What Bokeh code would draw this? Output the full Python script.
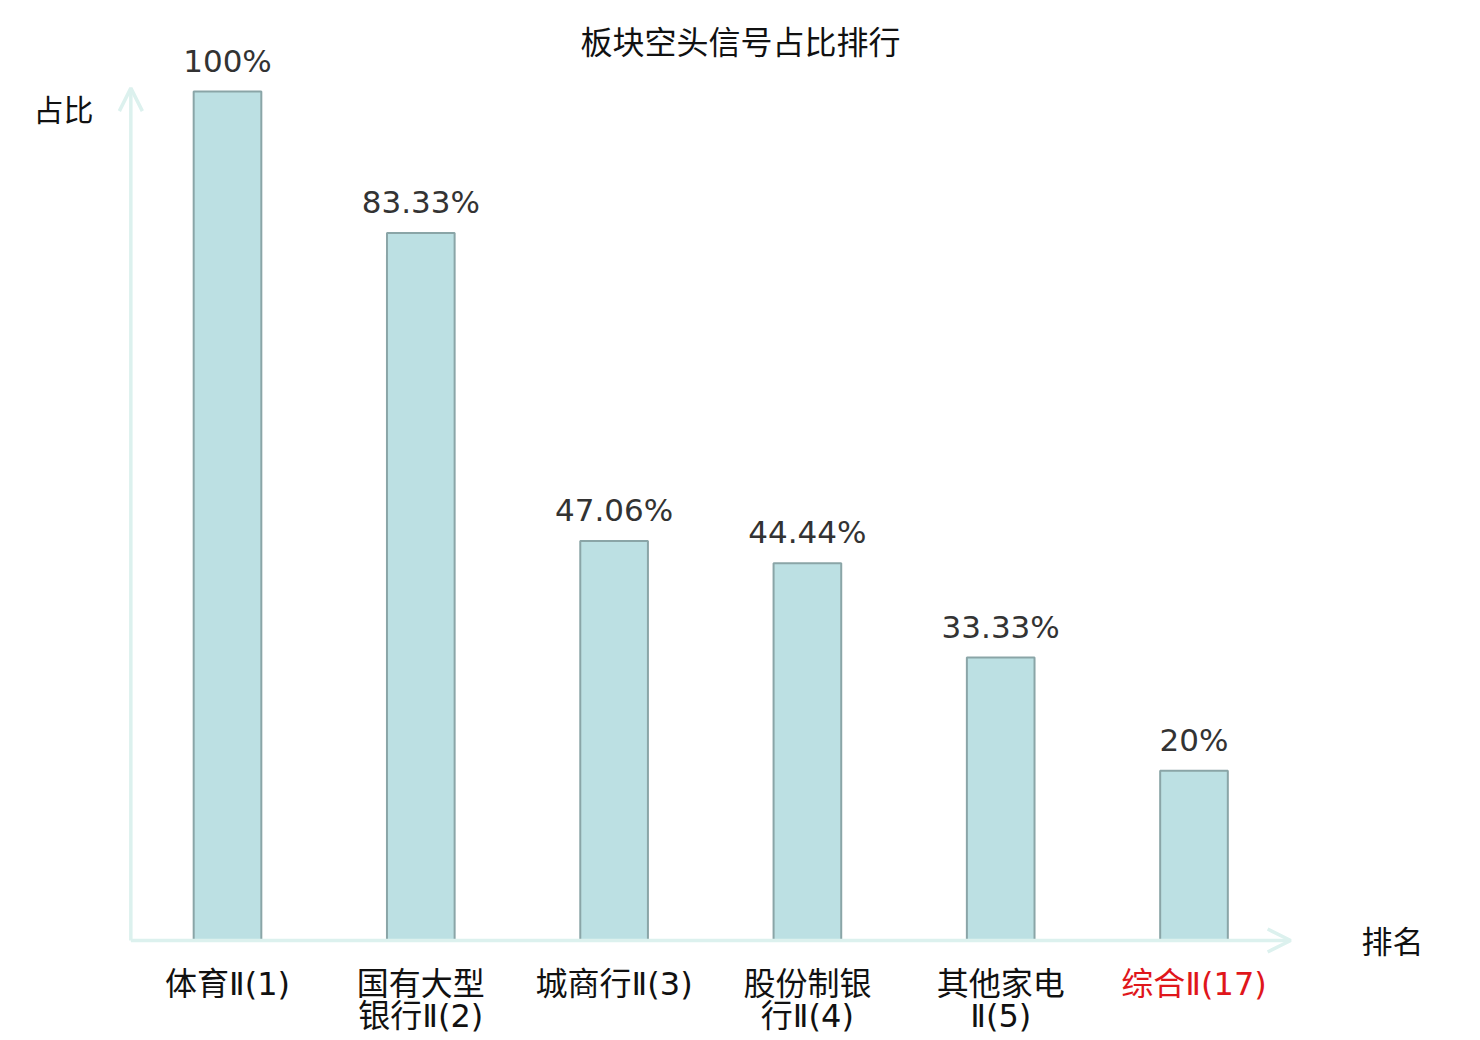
from bokeh.plotting import figure
from bokeh.models import Range1d, Arrow, OpenHead, Label, ColumnDataSource
from bokeh.core.properties import value
from bokeh.embed import file_html
from bokeh.resources import INLINE

categories = ["体育Ⅱ(1)", "国有大型\n银行Ⅱ(2)", "城商行Ⅱ(3)", "股份制银\n行Ⅱ(4)", "其他家电\nⅡ(5)", "综合Ⅱ(17)"]
values = [100, 83.33, 47.06, 44.44, 33.33, 20]
value_labels = ["100%", "83.33%", "47.06%", "44.44%", "33.33%", "20%"]
label_colors = ["#111111", "#111111", "#111111", "#111111", "#111111", "#e0161b"]

CJK = "Noto Sans CJK SC"
MIXED = "DejaVu Sans ExtraLight, DejaVu Sans, Noto Sans CJK SC"

W, H = 1476, 1036
OFF = 0  # figure origin in the picture
px_per_cat = 193.3
px_per_val = 8.49
x0_pic, y0_pic = 227.0, 940.0
x_start = (OFF - x0_pic) / px_per_cat
x_end = (OFF + W - x0_pic) / px_per_cat
y_end = (y0_pic - OFF) / px_per_val
y_start = (y0_pic - OFF - H) / px_per_val

p = figure(width=W, height=H, output_backend="svg", toolbar_location=None,
           x_range=Range1d(x_start, x_end), y_range=Range1d(y_start, y_end),
           min_border=0, outline_line_color=None)
p.xaxis.visible = False
p.yaxis.visible = False
p.grid.visible = False
p.background_fill_color = "white"
p.border_fill_color = "white"

idx = list(range(len(categories)))
line1 = [c.split("\n")[0] for c in categories]
line2 = [c.split("\n")[1] if "\n" in c else "" for c in categories]
src = ColumnDataSource(dict(x=idx, top=values, lab=value_labels, l1=line1, l2=line2,
                            col=label_colors, y1=[0.0] * len(idx)))

axis_color = "#dcf1ee"
p.add_layout(Arrow(x_start=-0.5, y_start=0, x_end=-0.5, y_end=100.4,
                   line_color=axis_color, line_width=3.5,
                   end=OpenHead(size=23, line_color=axis_color, line_width=3.5)))
p.add_layout(Arrow(x_start=-0.5, y_start=0, x_end=5.5, y_end=0,
                   line_color=axis_color, line_width=3.5,
                   end=OpenHead(size=23, line_color=axis_color, line_width=3.5)))

p.vbar(x="x", top="top", bottom=0, width=0.35, source=src,
       fill_color="#bce0e3", line_color="#8aa5a7", line_width=2)

p.text(x="x", y="top", text="lab", source=src, text_align="center",
       text_baseline="bottom", y_offset=-13, text_font=value("DejaVu Sans"),
       text_font_size="31px", text_color="#333333")

p.text(x="x", y="y1", text="l1", source=src, text_align="center",
       text_baseline="middle", y_offset=43, text_font=value(MIXED),
       text_font_size="32px", text_color="col")
p.text(x="x", y="y1", text="l2", source=src, text_align="center",
       text_baseline="middle", y_offset=75, text_font=value(MIXED),
       text_font_size="32px", text_color="col")

def screen_label(text, xc, yc, size):
    p.add_layout(Label(x=xc - OFF, y=H - (yc - OFF), x_units="screen", y_units="screen",
                       text=text, text_align="center", text_baseline="middle",
                       text_font=CJK, text_font_size=size, text_color="#111111"))

screen_label("板块空头信号占比排行", 740, 39, "32px")
screen_label("占比", 63, 107, "30px")
screen_label("排名", 1392, 939, "31px")

open("out.html", "w").write(file_html(p, INLINE))
